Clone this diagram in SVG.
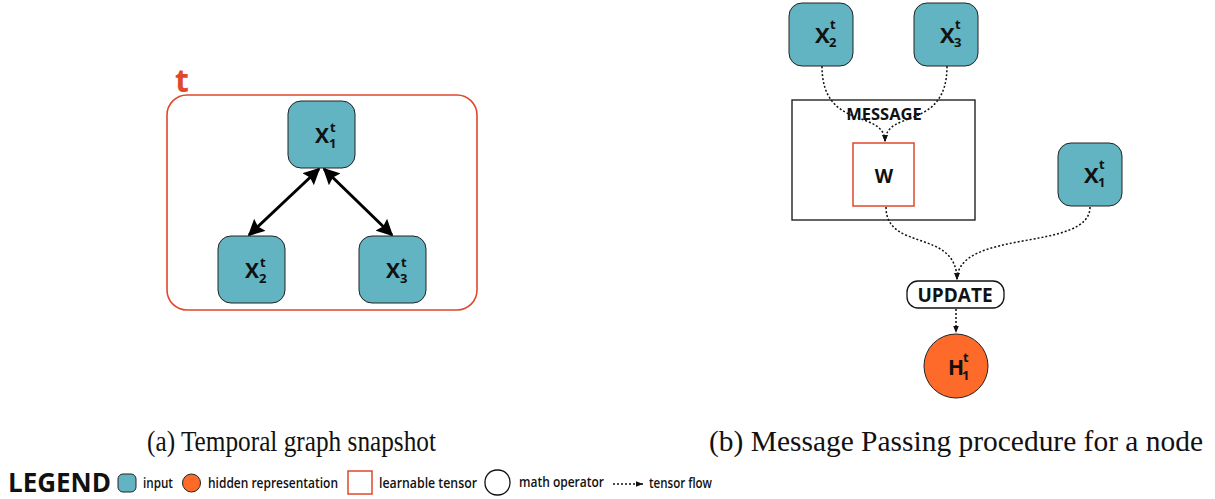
<svg xmlns="http://www.w3.org/2000/svg" width="1215" height="499" viewBox="0 0 1215 499">
  <style>
    .inp { fill: #62b4c2; stroke: #222; stroke-width: 1; }
    .hid { fill: #fd6a2a; stroke: #222; stroke-width: 1; }
    .tensor { fill: #fff; stroke: #e0472b; stroke-width: 1.5; }
    .op { fill: #fff; stroke: #111; stroke-width: 1.3; }
    .lbl { font-family: "Open Sans", "DejaVu Sans", sans-serif; font-weight: 700; fill: #111; }
    .sub { font-size: 13px; }
    .flow { fill: none; stroke: #111; stroke-width: 1.5; stroke-dasharray: 2 2; }
    .edge { fill: none; stroke: #000; stroke-width: 3; }
    .cap { font-family: "Liberation Serif", "Times New Roman", serif; font-size: 29px; fill: #111; }
    .leg { font-family: "Open Sans", "DejaVu Sans", sans-serif; font-weight: 600; font-size: 13.5px; fill: #111; }
  </style>
  <defs>
    <marker id="big" viewBox="0 0 10 10" refX="9" refY="5" markerWidth="5.5" markerHeight="5.5" orient="auto-start-reverse" markerUnits="strokeWidth">
      <path d="M0,0 L10,5 L0,10 L1.5,5 z" fill="#000"/>
    </marker>
    <marker id="small" viewBox="0 0 10 10" refX="10" refY="5" markerWidth="7" markerHeight="7" orient="auto" markerUnits="userSpaceOnUse">
      <path d="M0,1 L10,5 L0,9 z" fill="#111"/>
    </marker>
  </defs>

  <!-- (a) temporal graph snapshot -->
  <g id="snapshot">
    <rect x="167" y="95" width="310" height="215" rx="20" fill="none" stroke="#e0472b" stroke-width="1.6"/>
    <text x="175" y="92" font-family="Open Sans, DejaVu Sans, sans-serif" font-weight="700" font-size="32" fill="#e04a2a">t</text>
  </g>

  <g id="a-edges">
    <line class="edge" x1="319" y1="169" x2="249" y2="235" marker-start="url(#big)" marker-end="url(#big)"/>
    <line class="edge" x1="324" y1="169" x2="392" y2="235" marker-start="url(#big)" marker-end="url(#big)"/>
  </g>

  <g id="a-x1">
    <rect class="inp" x="288" y="101" width="67" height="67" rx="13"/>
    <text class="lbl" x="315" y="143" font-size="21">X</text>
    <text class="lbl sub" x="330" y="132">t</text>
    <text class="lbl sub" x="329" y="148">1</text>
  </g>
  <g id="a-x2">
    <rect class="inp" x="218" y="236" width="67" height="67" rx="13"/>
    <text class="lbl" x="245" y="278" font-size="21">X</text>
    <text class="lbl sub" x="260" y="267">t</text>
    <text class="lbl sub" x="259" y="283">2</text>
  </g>
  <g id="a-x3">
    <rect class="inp" x="359" y="236" width="67" height="67" rx="13"/>
    <text class="lbl" x="386" y="278" font-size="21">X</text>
    <text class="lbl sub" x="401" y="267">t</text>
    <text class="lbl sub" x="400" y="283">3</text>
  </g>

  <!-- (b) message passing -->
  <g id="message">
    <rect x="792" y="100" width="183" height="120" fill="#fff" stroke="#111" stroke-width="1.3"/>
    <text class="lbl" x="884" y="120" font-size="16.5" text-anchor="middle">MESSAGE</text>
  </g>

  <g id="b-edges">
    <path class="flow" d="M822,66 C822,132 885,108 885,142" marker-end="url(#small)"/>
    <path class="flow" d="M947,66 C947,132 885,108 885,142" marker-end="url(#small)"/>
    <path class="flow" d="M886,207 C886,252 957,228 957,280" marker-end="url(#small)"/>
    <path class="flow" d="M1090,207 C1090,252 957,228 957,280" marker-end="url(#small)"/>
    <path class="flow" d="M956,309 L956,333" marker-end="url(#small)"/>
  </g>

  <g id="b-x2">
    <rect class="inp" x="789" y="3" width="64" height="63" rx="13"/>
    <text class="lbl" x="815" y="43" font-size="22">X</text>
    <text class="lbl sub" x="830" y="29">t</text>
    <text class="lbl sub" x="829" y="47">2</text>
  </g>
  <g id="b-x3">
    <rect class="inp" x="914" y="3" width="64" height="63" rx="13"/>
    <text class="lbl" x="940" y="43" font-size="22">X</text>
    <text class="lbl sub" x="955" y="29">t</text>
    <text class="lbl sub" x="954" y="47">3</text>
  </g>
  <g id="b-w">
    <rect class="tensor" x="853" y="143" width="61" height="63"/>
    <text class="lbl" x="884" y="183" font-size="19" text-anchor="middle">W</text>
  </g>
  <g id="b-x1">
    <rect class="inp" x="1058" y="143" width="64" height="63" rx="13"/>
    <text class="lbl" x="1084" y="183" font-size="22">X</text>
    <text class="lbl sub" x="1099" y="169">t</text>
    <text class="lbl sub" x="1098" y="187">1</text>
  </g>
  <g id="b-update">
    <rect class="op" x="907" y="281" width="97" height="27" rx="11"/>
    <text class="lbl" x="955" y="302" font-size="19" text-anchor="middle">UPDATE</text>
  </g>
  <g id="b-h1">
    <circle class="hid" cx="956" cy="366" r="32"/>
    <text class="lbl" x="948" y="375" font-size="21">H</text>
    <text class="lbl sub" x="963" y="362">t</text>
    <text class="lbl sub" x="962" y="380">1</text>
  </g>

  <!-- captions -->
  <text class="cap" x="147" y="451" textLength="289" lengthAdjust="spacingAndGlyphs">(a) Temporal graph snapshot</text>
  <text class="cap" x="709" y="451" textLength="494" lengthAdjust="spacingAndGlyphs">(b) Message Passing procedure for a node</text>

  <!-- legend -->
  <g id="legend">
    <text x="8" y="492" font-family="Open Sans, DejaVu Sans, sans-serif" font-weight="700" font-size="26" fill="#111" textLength="103" lengthAdjust="spacingAndGlyphs">LEGEND</text>
    <rect class="inp" x="118" y="474" width="18" height="18" rx="5"/>
    <text class="leg" x="143" y="488" textLength="30" lengthAdjust="spacingAndGlyphs">input</text>
    <circle class="hid" cx="191.5" cy="483" r="9"/>
    <text class="leg" x="208" y="488" textLength="130" lengthAdjust="spacingAndGlyphs">hidden representation</text>
    <rect class="tensor" x="348" y="471" width="24" height="23"/>
    <text class="leg" x="379" y="488" textLength="98" lengthAdjust="spacingAndGlyphs">learnable tensor</text>
    <rect class="op" x="485" y="470" width="25" height="25" rx="12"/>
    <text class="leg" x="519" y="487" textLength="85" lengthAdjust="spacingAndGlyphs">math operator</text>
    <path class="flow" d="M613,484 L643,484" stroke-width="1.2" stroke-dasharray="1.5 1.5" marker-end="url(#small)"/>
    <text class="leg" x="649" y="488" textLength="63" lengthAdjust="spacingAndGlyphs">tensor flow</text>
  </g>
</svg>
